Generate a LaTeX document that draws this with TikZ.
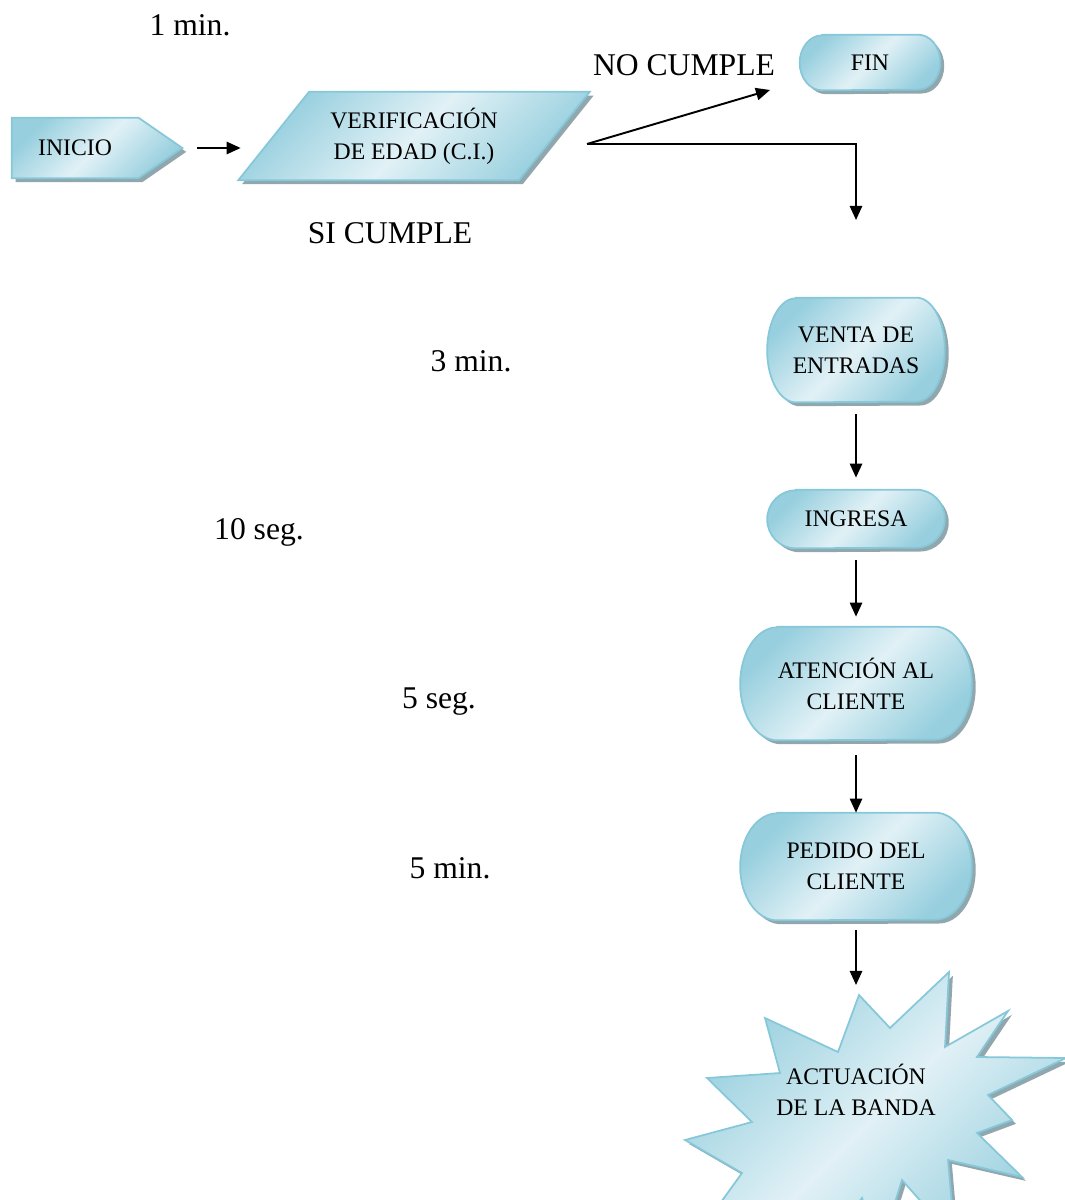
\documentclass[tikz,border=0pt]{standalone}
\usepackage{fontspec}
\setmainfont{Liberation Serif}
\usetikzlibrary{calc,shadows,backgrounds,arrows.meta}

\definecolor{celesteOsc}{HTML}{97CFDE}
\definecolor{celesteCla}{HTML}{E1F1F6}
\definecolor{bordeCel}{HTML}{86C8D9}
\definecolor{sombra}{HTML}{90A7AE}

\tikzset{
    caja/.style={left color=celesteOsc, right color=celesteOsc, middle color=celesteCla,
        shading angle=45, draw=bordeCel, line width=1pt,
        drop shadow={shadow xshift=2.2pt, shadow yshift=-2.2pt, fill=sombra, opacity=1}},
    texto/.style={font=\fontsize{18}{22}\selectfont, inner sep=0pt},
    rotulo/.style={font=\fontsize{13.5}{17.6}\selectfont, align=center, inner sep=0pt},
    flecha/.style={line width=1.1pt, -{Triangle[length=8pt,width=7pt]}}
}

% forma de terminal: nodo, radio x, radio y
\newcommand{\terminal}[3]{%
    \path[caja] ($(#1.north west)+(#2,0)$) -- ($(#1.north east)+(-#2,0)$)
        arc[start angle=90, end angle=-90, x radius=#2, y radius=#3]
        -- ($(#1.south west)+(#2,0)$)
        arc[start angle=270, end angle=90, x radius=#2, y radius=#3] -- cycle;}

\begin{document}
\begin{tikzpicture}
    \useasboundingbox (0,0) rectangle (21.28,-24);
    % Tiempos
    \node[texto] (t1min) at (3.8,-0.5) {1 min.};
    \node[texto] (nocumple) at (13.68,-1.3) {NO CUMPLE};
    \node[texto] (sicumple) at (7.8,-4.66) {SI CUMPLE};
    \node[texto] (t3min) at (9.42,-7.22) {3 min.};
    \node[texto] (t10seg) at (5.18,-10.64) {10 seg.};
    \node[texto] (t5seg) at (8.78,-14.04) {5 seg.};
    \node[texto] (t5min) at (9.0,-17.36) {5 min.};
    % Inicio y verificaci\'on
    \node[rotulo, minimum width=2.52cm, minimum height=1.2cm] (inicio) at (1.5,-2.96) {INICIO};
    \node[rotulo, minimum width=5.6cm, minimum height=1.76cm] (verif) at (8.28,-2.72) {VERIFICACIÓN\\DE EDAD (C.I.)};
    \node[rotulo, minimum width=2.8cm, minimum height=1.1cm] (fin) at (17.4,-1.25) {FIN};
    % Columna de la derecha
    \node[rotulo, minimum width=3.54cm, minimum height=2.08cm] (venta) at (17.12,-7.0) {VENTA DE\\ENTRADAS};
    \node[rotulo, minimum width=3.54cm, minimum height=1.16cm] (ingresa) at (17.12,-10.38) {INGRESA};
    \node[rotulo, minimum width=4.62cm, minimum height=2.26cm] (atencion) at (17.12,-13.67) {ATENCIÓN AL\\CLIENTE};
    \node[rotulo, minimum width=4.62cm, minimum height=2.14cm] (pedido) at (17.12,-17.33) {PEDIDO DEL\\CLIENTE};
    \node[rotulo] (banda) at (17.12,-21.8) {ACTUACIÓN\\DE LA BANDA};
    \coordinate (cimaEstrella) at (17.18,-19.9);
    % Formas
    \begin{scope}[on background layer]
        \path[caja] (inicio.north west) -- (inicio.north east) -- ($(inicio.east)+(0.88,0)$)
            -- (inicio.south east) -- (inicio.south west) -- cycle;
        \path[caja] ($(verif.north west)+(0.71,0)$) -- ($(verif.north east)+(0.71,0)$)
            -- ($(verif.south east)+(-0.71,0)$) -- ($(verif.south west)+(-0.71,0)$) -- cycle;
        \terminal{fin}{0.45}{0.55}
        \terminal{venta}{0.57}{1.04}
        \terminal{ingresa}{0.57}{0.58}
        \terminal{atencion}{0.74}{1.13}
        \terminal{pedido}{0.74}{1.07}
        % Estrella
        \path[caja] (cimaEstrella) -- (17.80,-20.56) -- (18.98,-19.44) -- (18.90,-20.94)
            -- (20.16,-20.22) -- (19.54,-21.14) -- (21.32,-21.16) -- (19.76,-21.90)
            -- (20.24,-22.40) -- (19.54,-22.66) -- (20.44,-23.54) -- (18.96,-23.20)
            -- (19.10,-24.80) -- (18.04,-23.60) -- (17.60,-25.00) -- (17.24,-23.96)
            -- (16.30,-25.20) -- (15.60,-24.30) -- (13.80,-24.90) -- (14.84,-23.46)
            -- (13.70,-22.80) -- (15.04,-22.44) -- (14.14,-21.56) -- (15.60,-21.46)
            -- (15.30,-20.36) -- (16.76,-21.04) -- cycle;
    \end{scope}
    % Flechas
    \coordinate (bifurca) at (11.74,-2.88);
    \coordinate (haciaFin) at (15.4,-1.8);
    \coordinate (haciaVenta) at (17.12,-4.4);
    \draw[flecha, shorten <=1.18cm, shorten >=0.66cm] (inicio.east) -- (inicio.east -| verif.west);
    \draw[flecha] (bifurca) -- (haciaFin);
    \draw[flecha] (bifurca) -| (haciaVenta);
    \draw[flecha, shorten <=0.24cm, shorten >=0.24cm] (venta) -- (ingresa);
    \draw[flecha, shorten <=0.24cm, shorten >=0.2cm] (ingresa) -- (atencion);
    \draw[flecha, shorten <=0.3cm] (atencion) -- (pedido);
    \draw[flecha, shorten <=0.2cm, shorten >=0.2cm] (pedido) -- (pedido |- cimaEstrella);
\end{tikzpicture}
\end{document}
